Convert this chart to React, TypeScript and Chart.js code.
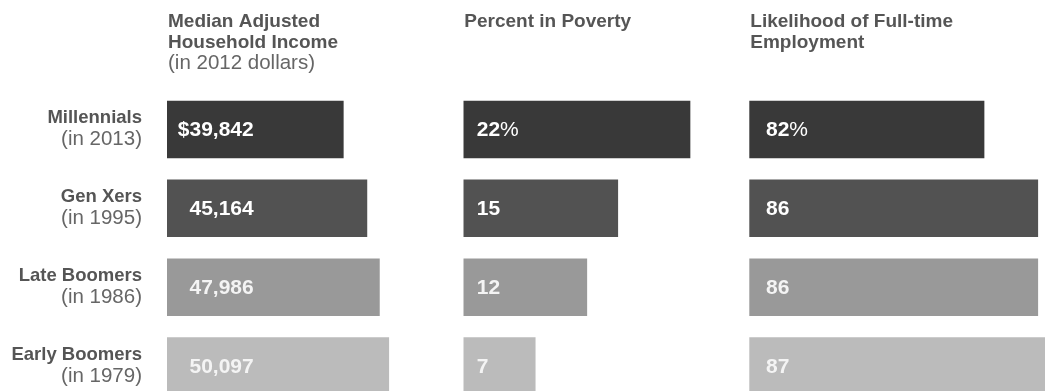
import React, { useEffect, useRef } from "react";
import { Chart, registerables } from "chart.js";

Chart.register(...registerables);

// ---------- data ----------
const generations = ["Millennials", "Gen Xers", "Late Boomers", "Early Boomers"];
const surveyYears = ["(in 2013)", "(in 1995)", "(in 1986)", "(in 1979)"];
const medianIncome = [39842, 45164, 47986, 50097];
const percentPoverty = [22, 15, 12, 7];
const fullTimeLikelihood = [82, 86, 86, 87];
const incomeTitle = ["Median Adjusted", "Household Income"];
const incomeSubtitle = ["(in 2012 dollars)"];
const povertyTitle = ["Percent in Poverty"];
const employmentTitle = ["Likelihood of Full-time", "Employment"];
const barColors = ["#393939", "#525252", "#999999", "#bbbbbb"];

// ---------- layout / style ----------
const FONT = "'Liberation Sans', Arial, Helvetica, sans-serif";
const CANVAS_H = 420;
const AREA_TOP = 90;
const AREA_BOTTOM = 405.5;

interface PanelSpec {
  values: number[];
  min: number;
  max: number;
  canvasLeft: number;
  canvasWidth: number;
  areaLeft: number;
  areaRight: number;
  labelOffset: number;
  prefix: string;
  suffix: string;
  titleBold: string[];
  titleRegular: string[];
  rowLabels: boolean;
}

const panels: PanelSpec[] = [
  {
    values: medianIncome,
    min: 0,
    max: 60000,
    canvasLeft: 0,
    canvasWidth: 450,
    areaLeft: 167,
    areaRight: 433,
    labelOffset: 22.5,
    prefix: "$",
    suffix: "",
    titleBold: incomeTitle,
    titleRegular: incomeSubtitle,
    rowLabels: true,
  },
  {
    values: percentPoverty,
    min: 0,
    max: 25,
    canvasLeft: 450,
    canvasWidth: 290,
    areaLeft: 463.3,
    areaRight: 721.3,
    labelOffset: 13.4,
    prefix: "",
    suffix: "%",
    titleBold: povertyTitle,
    titleRegular: [],
    rowLabels: false,
  },
  {
    values: fullTimeLikelihood,
    min: 64.5,
    max: 87.28,
    canvasLeft: 740,
    canvasWidth: 320,
    areaLeft: 749.3,
    areaRight: 1055.3,
    labelOffset: 16.7,
    prefix: "",
    suffix: "%",
    titleBold: employmentTitle,
    titleRegular: [],
    rowLabels: false,
  },
];

function Panel({ spec }: { spec: PanelSpec }) {
  const ref = useRef<HTMLCanvasElement | null>(null);

  useEffect(() => {
    if (!ref.current) return;
    const s = spec;
    const textPlugin = {
      id: "panelText",
      afterDraw(chart: any) {
        const ctx: CanvasRenderingContext2D = chart.ctx;
        const area = chart.chartArea;
        const yScale = chart.scales.y;
        ctx.save();
        ctx.textBaseline = "alphabetic";
        // titles
        let ty = 27;
        ctx.textAlign = "left";
        ctx.fillStyle = "#555555";
        ctx.font = `bold 19px ${FONT}`;
        s.titleBold.forEach((line) => {
          ctx.fillText(line, area.left + 1, ty);
          ty += 21;
        });
        ctx.fillStyle = "#666666";
        ctx.font = `20.5px ${FONT}`;
        s.titleRegular.forEach((line) => {
          ctx.fillText(line, area.left + 1, ty);
          ty += 21;
        });
        // row labels
        if (s.rowLabels) {
          ctx.textAlign = "right";
          generations.forEach((g, i) => {
            const cy = yScale.getPixelForValue(i);
            ctx.fillStyle = "#555555";
            ctx.font = `bold 18.5px ${FONT}`;
            ctx.fillText(g, 142 - s.canvasLeft, cy - 6);
            ctx.fillStyle = "#666666";
            ctx.font = `20.5px ${FONT}`;
            ctx.fillText(surveyYears[i], 142 - s.canvasLeft, cy + 16);
          });
        }
        // value labels
        s.values.forEach((v, i) => {
          const cy = yScale.getPixelForValue(i);
          const x = area.left + s.labelOffset;
          const txt = v.toLocaleString("en-US");
          ctx.fillStyle = i < 2 ? "#ffffff" : "#f4f4f4";
          ctx.font = `bold 21px ${FONT}`;
          ctx.textAlign = "left";
          ctx.fillText(txt, x, cy + 7);
          if (i === 0 && s.prefix) {
            ctx.textAlign = "right";
            ctx.fillText(s.prefix, x, cy + 7);
          }
          if (i === 0 && s.suffix) {
            const w = ctx.measureText(txt).width;
            ctx.font = `21px ${FONT}`;
            ctx.textAlign = "left";
            ctx.fillText(s.suffix, x + w, cy + 7);
          }
        });
        ctx.restore();
      },
    };

    const chart = new Chart(ref.current, {
      type: "bar",
      data: {
        labels: generations,
        datasets: [
          {
            data: s.values,
            backgroundColor: barColors,
            borderWidth: 0,
            barPercentage: 0.73,
            categoryPercentage: 1,
          },
        ],
      },
      options: {
        indexAxis: "y",
        responsive: false,
        animation: false,
        devicePixelRatio: 1,
        layout: {
          padding: {
            left: s.areaLeft - s.canvasLeft,
            right: s.canvasLeft + s.canvasWidth - s.areaRight,
            top: AREA_TOP,
            bottom: CANVAS_H - AREA_BOTTOM,
          },
        },
        scales: {
          x: { display: false, min: s.min, max: s.max },
          y: { display: false, offset: true },
        },
        plugins: {
          legend: { display: false },
          tooltip: { enabled: false },
          title: { display: false },
        },
      },
      plugins: [textPlugin],
    } as any);
    return () => chart.destroy();
  }, [spec]);

  return (
    <canvas
      ref={ref}
      width={spec.canvasWidth}
      height={CANVAS_H}
      style={{
        position: "absolute",
        left: spec.canvasLeft,
        top: 0,
        width: spec.canvasWidth,
        height: CANVAS_H,
      }}
    />
  );
}

export default function App() {
  return (
    <div
      style={{
        position: "fixed",
        left: 0,
        top: 0,
        width: 1045,
        height: 391,
        overflow: "hidden",
        background: "#ffffff",
      }}
    >
      {panels.map((p, i) => (
        <Panel key={i} spec={p} />
      ))}
    </div>
  );
}
